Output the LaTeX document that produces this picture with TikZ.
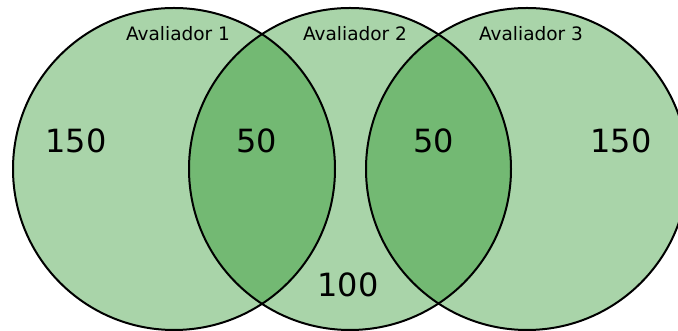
\documentclass[tikz,border=0pt]{standalone}
\usepackage{fontspec}
\setmainfont{DejaVu Sans}
\definecolor{setfill}{RGB}{169,212,169}
\definecolor{overlapfill}{RGB}{115,185,115}
\tikzset{
  x=1pt, y=1pt,
  setline/.style={draw=black, line width=2pt},
  setlabel/.style={inner sep=0pt, anchor=base, font=\fontsize{18.5}{20}\selectfont},
  count/.style={inner sep=0pt, anchor=base, font=\fontsize{32}{34}\selectfont},
}
\begin{document}
\begin{tikzpicture}
\useasboundingbox (0,0) rectangle (678,331);
\clip (0,0) rectangle (678,331);
% set centres
\coordinate (A) at (174,162);
\coordinate (B) at (350,162);
\coordinate (C) at (527,162);
\def\rad{161}
% single-set regions
\fill[setfill] (A) circle[radius=\rad];
\fill[setfill] (B) circle[radius=\rad];
\fill[setfill] (C) circle[radius=\rad];
% pairwise overlaps
\begin{scope}
  \clip (A) circle[radius=\rad];
  \fill[overlapfill] (B) circle[radius=\rad];
\end{scope}
\begin{scope}
  \clip (B) circle[radius=\rad];
  \fill[overlapfill] (C) circle[radius=\rad];
\end{scope}
% outlines
\draw[setline] (A) circle[radius=\rad];
\draw[setline] (B) circle[radius=\rad];
\draw[setline] (C) circle[radius=\rad];
% set names
\node[setlabel] (la) at (178,290) {Avaliador 1};
\node[setlabel] (lb) at (355,290) {Avaliador 2};
\node[setlabel] (lc) at (531,290) {Avaliador 3};
% region counts
\node[count] (nA)  at (76,178) {150};
\node[count] (nAB) at (257,178) {50};
\node[count] (nBC) at (434,178) {50};
\node[count] (nC)  at (621,178) {150};
\node[count] (nB)  at (348,34) {100};
\end{tikzpicture}
\end{document}
